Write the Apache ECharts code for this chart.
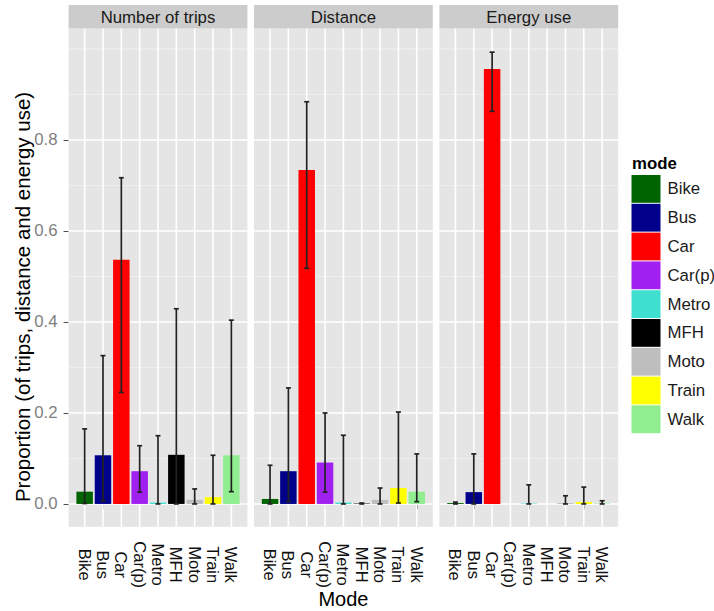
<!DOCTYPE html>
<html>
<head>
<meta charset="utf-8">
<script src="https://cdn.jsdelivr.net/npm/echarts@6/dist/echarts.min.js"></script>
<style>
html,body{margin:0;padding:0;background:#fff;}
#chart{width:714px;height:611px;}
</style>
</head>
<body>
<div id="chart"></div>
<script>
// ---- data ----
const categories = ['Bike','Bus','Car','Car(p)','Metro','MFH','Moto','Train','Walk'];
const modeColors = ['#006400','#00008B','#FF0000','#A020F0','#40E0D0','#000000','#BEBEBE','#FFFF00','#90EE90'];
const panels = ['Number of trips','Distance','Energy use'];

const tripsMean = [0.027, 0.107, 0.537, 0.072, 0.003, 0.108, 0.009, 0.015, 0.107];
const tripsLow  = [0.001, 0.007, 0.245, 0.026, 0.000, 0.000, 0.000, 0.000, 0.027];
const tripsHigh = [0.165, 0.326, 0.717, 0.128, 0.150, 0.429, 0.033, 0.107, 0.404];

const distMean = [0.011, 0.072, 0.734, 0.091, 0.003, 0.001, 0.009, 0.035, 0.027];
const distLow  = [0.000, 0.005, 0.518, 0.026, 0.000, 0.000, 0.000, 0.002, 0.005];
const distHigh = [0.085, 0.255, 0.884, 0.200, 0.151, 0.002, 0.035, 0.202, 0.110];

const energyMean = [0.002, 0.026, 0.956, null, 0.001, null, 0.002, 0.004, 0.001];
const energyLow  = [0.000, 0.000, 0.863, null, 0.000, null, 0.000, 0.000, 0.000];
const energyHigh = [0.004, 0.110, 0.993, null, 0.042, null, 0.018, 0.037, 0.007];

const yMajorTicks = [0, 0.2, 0.4, 0.6, 0.8];
const yMinorTicks = [0.1, 0.3, 0.5, 0.7, 0.9, 1.0];

const xTitle = 'Mode';
const yTitle = 'Proportion (of trips, distance and energy use)';
const legendTitle = 'mode';

// ---- layout ----
const FONT = '"Liberation Sans", Arial, Helvetica, sans-serif';
const panelLeft = [68.6, 254, 439.4];
const panelW = 178.8;
const panelTop = 28.5;
const panelH = 498.2;
const stripTop = 5;
const xMin = 0.125, xMax = 9.875;
const yMin = -0.05, yMax = 1.045;

const means = [tripsMean, distMean, energyMean];
const lows = [tripsLow, distLow, energyLow];
const highs = [tripsHigh, distHigh, energyHigh];
const xPos = categories.map((c, i) => i + 1);

const grids = [], xAxes = [], yAxes = [], series = [], graphics = [];

function hLineRender(width, color) {
  return function (params, api) {
    const p = api.coord([api.value(0), api.value(1)]);
    const cs = params.coordSys;
    return {type: 'line', silent: true,
      shape: {x1: cs.x, y1: p[1], x2: cs.x + cs.width, y2: p[1]},
      style: {stroke: color, lineWidth: width}};
  };
}
function vLineRender(width, color) {
  return function (params, api) {
    const p = api.coord([api.value(0), api.value(1)]);
    const cs = params.coordSys;
    return {type: 'line', silent: true,
      shape: {x1: p[0], y1: cs.y, x2: p[0], y2: cs.y + cs.height},
      style: {stroke: color, lineWidth: width}};
  };
}

panels.forEach((title, p) => {
  grids.push({left: panelLeft[p], top: panelTop, width: panelW, height: panelH,
    show: true, backgroundColor: '#E5E5E5', borderWidth: 0, containLabel: false});
  xAxes.push({type: 'value', gridIndex: p, min: xMin, max: xMax,
    axisLine: {show: false}, splitLine: {show: false},
    axisTick: {show: true, customValues: xPos, length: 5, lineStyle: {color: '#4d4d4d', width: 1}},
    axisLabel: {show: true, customValues: xPos, rotate: -90, align: 'center', verticalAlign: 'middle',
      margin: 38, fontSize: 16.5, fontFamily: FONT, color: '#111',
      formatter: v => categories[Math.round(v) - 1]}
  });
  yAxes.push({type: 'value', gridIndex: p, min: yMin, max: yMax,
    axisLine: {show: false}, splitLine: {show: false},
    axisTick: {show: p === 0, customValues: yMajorTicks, length: 5, lineStyle: {color: '#4d4d4d', width: 1}},
    axisLabel: {show: p === 0, customValues: yMajorTicks, margin: 11, fontSize: 16.8, fontFamily: FONT,
      color: '#7f7f7f', formatter: v => v.toFixed(1)}
  });
  // grid lines
  series.push({type: 'custom', xAxisIndex: p, yAxisIndex: p, z: 1, silent: true,
    renderItem: hLineRender(0.8, '#F2F2F2'), data: yMinorTicks.map(v => [xMin, v])});
  series.push({type: 'custom', xAxisIndex: p, yAxisIndex: p, z: 1, silent: true,
    renderItem: hLineRender(1.6, '#FFFFFF'), data: yMajorTicks.map(v => [xMin, v])});
  series.push({type: 'custom', xAxisIndex: p, yAxisIndex: p, z: 1, silent: true,
    renderItem: vLineRender(1.6, '#FFFFFF'), data: xPos.map(v => [v, 0])});
  // bars
  categories.forEach((c, i) => {
    series.push({type: 'bar', name: c, xAxisIndex: p, yAxisIndex: p, z: 2, silent: true,
      barWidth: 16.5, barGap: '-100%', itemStyle: {color: modeColors[i]},
      data: [[xPos[i], means[p][i]]]});
  });
  // error bars
  const eb = [];
  categories.forEach((c, i) => {
    if (lows[p][i] !== null && highs[p][i] !== null) eb.push([xPos[i], lows[p][i], highs[p][i]]);
  });
  series.push({type: 'custom', xAxisIndex: p, yAxisIndex: p, z: 3, silent: true,
    encode: {x: 0, y: [1, 2]},
    renderItem: function (params, api) {
      const x = api.value(0);
      const lo = api.coord([x, api.value(1)]);
      const hi = api.coord([x, api.value(2)]);
      const half = api.size([0.27, 0])[0] / 2;
      const st = {stroke: '#222222', lineWidth: 1.7};
      return {type: 'group', children: [
        {type: 'line', shape: {x1: lo[0], y1: lo[1], x2: hi[0], y2: hi[1]}, style: st},
        {type: 'line', shape: {x1: hi[0] - half, y1: hi[1], x2: hi[0] + half, y2: hi[1]}, style: st},
        {type: 'line', shape: {x1: lo[0] - half, y1: lo[1], x2: lo[0] + half, y2: lo[1]}, style: st}
      ]};
    },
    data: eb});
  // strips
  graphics.push({type: 'rect', silent: true, shape: {x: panelLeft[p], y: stripTop, width: panelW, height: panelTop - stripTop},
    style: {fill: '#CCCCCC'}});
  graphics.push({type: 'text', silent: true, x: panelLeft[p] + panelW / 2, y: (stripTop + panelTop) / 2 + 0.5,
    style: {text: title, fill: '#1a1a1a', font: '16.8px ' + FONT, textAlign: 'center', textVerticalAlign: 'middle'}});
});

// axis titles
graphics.push({type: 'text', silent: true, x: (panelLeft[0] + panelLeft[2] + panelW) / 2, y: 599,
  style: {text: xTitle, fill: '#000', font: '20px ' + FONT, textAlign: 'center', textVerticalAlign: 'middle'}});
graphics.push({type: 'text', silent: true, x: 22, y: 297, rotation: Math.PI / 2,
  style: {text: yTitle, fill: '#000', font: '20.5px ' + FONT, textAlign: 'center', textVerticalAlign: 'middle'}});
// legend title
graphics.push({type: 'text', silent: true, x: 632, y: 163,
  style: {text: legendTitle, fill: '#000', font: 'bold 16.8px ' + FONT, textAlign: 'left', textVerticalAlign: 'middle'}});

const chart = echarts.init(document.getElementById('chart'), null, {renderer: 'svg'});
chart.setOption({
  animation: false,
  backgroundColor: '#FFFFFF',
  grid: grids,
  xAxis: xAxes,
  yAxis: yAxes,
  legend: {show: true, orient: 'vertical', left: 631.5, top: 175, padding: 0,
    itemWidth: 29, itemHeight: 27.8, itemGap: 1, icon: 'rect', selectedMode: false,
    data: categories,
    textStyle: {fontSize: 16.8, fontFamily: FONT, color: '#1a1a1a', padding: [0, 0, 0, 2]}},
  graphic: graphics,
  series: series
});
</script>
</body>
</html>
